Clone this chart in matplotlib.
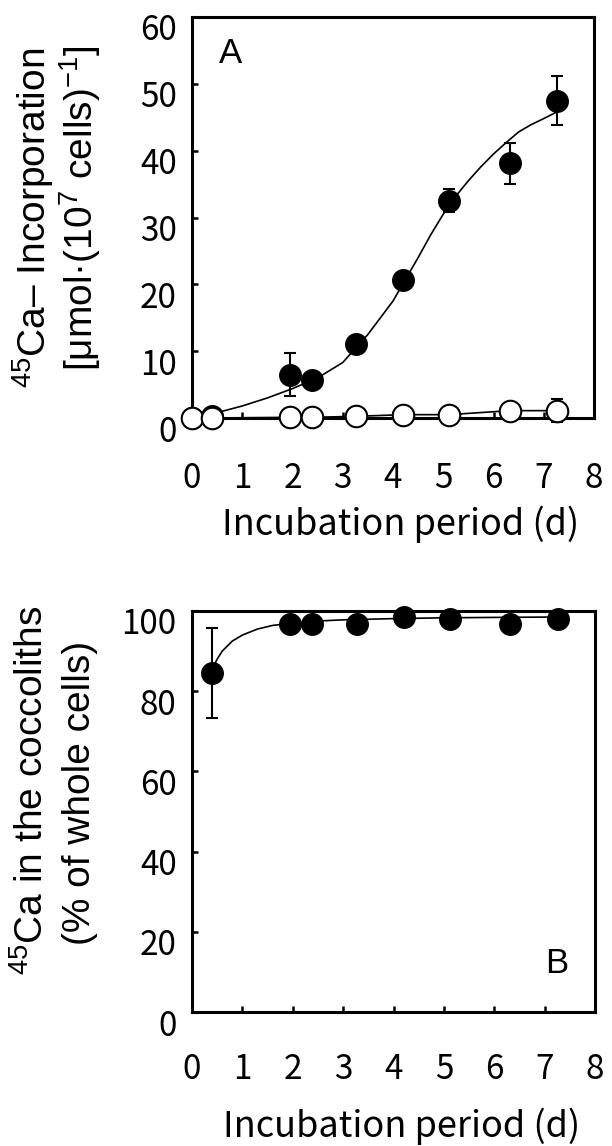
import matplotlib
matplotlib.use("Agg")
import matplotlib.pyplot as plt
from matplotlib.transforms import ScaledTranslation

plt.rcParams['font.family'] = ['Noto Sans CJK JP', 'DejaVu Sans']
plt.rcParams['mathtext.fontset'] = 'custom'
plt.rcParams['mathtext.rm'] = 'Liberation Sans'

# Panel A: 45Ca incorporation (filled = whole cells, open = control)
a_days = [0.0, 0.4, 1.95, 2.38, 3.27, 4.2, 5.12, 6.32, 7.26]
a_filled = [0.0, 0.3, 6.5, 5.7, 11.0, 20.6, 32.5, 38.1, 47.5]
a_filled_err = [0, 0, 3.2, 0, 0, 0, 1.7, 3.1, 3.6]
a_open = [0.0, 0.0, 0.1, 0.1, 0.25, 0.5, 0.5, 1.1, 1.1]
a_open_err = [0, 0, 0, 0, 0, 0, 0, 0.5, 1.7]

# fitted curve as drawn
a_fit_x = [0.4, 1.0, 1.5, 2.0, 2.5, 3.0, 3.5, 4.0, 4.5, 4.75, 5.0, 5.25, 5.5, 5.75,
           6.0, 6.25, 6.5, 6.75, 7.0, 7.26]
a_fit_y = [0.6, 1.8, 3.0, 4.4, 6.0, 8.3, 12.5, 17.5, 24.0, 27.4, 30.5, 33.2, 35.5, 37.6,
           39.5, 41.2, 42.8, 43.9, 44.8, 45.8]

# Panel B: 45Ca in coccoliths (% of whole cells)
b_days = [0.4, 1.95, 2.38, 3.27, 4.2, 5.12, 6.32, 7.26]
b_pct = [84.5, 96.8, 96.8, 96.8, 98.6, 98.1, 96.8, 98.1]
b_err = [11.3, 0, 0, 0, 0, 0, 0, 0]
b_fit_x = [0.4, 0.5, 0.6, 0.8, 1.0, 1.3, 1.6, 2.0, 2.5, 3.0, 4.0, 5.0, 6.0, 7.26]
b_fit_y = [85.5, 88.0, 90.0, 92.5, 94.0, 95.5, 96.4, 97.0, 97.5, 97.8, 98.1, 98.3, 98.4, 98.5]

fig = plt.figure(figsize=(6.12, 11.46), dpi=100)
W, H = 612, 1146
axA = fig.add_axes([192 / W, 1 - 418 / H, 402 / W, 401 / H])
axB = fig.add_axes([192 / W, 1 - 1012 / H, 403 / W, 401 / H])

ms = 15.5
eb = dict(elinewidth=1.5, capsize=4.5, capthick=1.5, clip_on=False)

# --- panel A ---
axA.plot(a_fit_x, a_fit_y, color='black', lw=1.2, zorder=2)
axA.errorbar(a_days, a_filled, yerr=a_filled_err, fmt='o', color='black',
             ms=ms, mec='black', zorder=3, **eb)
axA.errorbar(a_days, a_open, yerr=a_open_err, fmt='-o', color='black', lw=1.2,
             ms=ms, mfc='white', mec='black', mew=1.5, zorder=4, **eb)
axA.set_xlim(0, 8)
axA.set_ylim(0, 60)
axA.set_yticks([0, 10, 20, 30, 40, 50, 60])
axA.text(0.77, 54.5, 'A', fontsize=25, family='Liberation Sans', ha='center', va='center')

# --- panel B ---
axB.plot(b_fit_x, b_fit_y, color='black', lw=1.2, zorder=2)
axB.errorbar(b_days, b_pct, yerr=b_err, fmt='o', color='black',
             ms=ms, mec='black', zorder=3, **eb)
axB.set_xlim(0, 8)
axB.set_ylim(0, 100)
axB.set_yticks([0, 20, 40, 60, 80, 100])
axB.text(7.23, 12.2, 'B', fontsize=25, family='Liberation Sans', ha='center', va='center')

shift = ScaledTranslation(0, -10 / 100, fig.dpi_scale_trans)
for ax, xpad in ((axA, 31), (axB, 29)):
    for s in ax.spines.values():
        s.set_linewidth(2.2)
    ax.set_xticks(range(9))
    ax.tick_params(direction='in', length=4.5, width=1.8, labelsize=24)
    ax.tick_params(axis='y', pad=11)
    ax.tick_params(axis='x', pad=xpad)
    for lab in ax.get_yticklabels():
        lab.set_transform(lab.get_transform() + shift)

# x labels
axA.text(0.52, (418 - 524) / 401, 'Incubation period (d)', transform=axA.transAxes,
         fontsize=26, ha='center', va='center')
axB.text(0.52, (1012 - 1126) / 401, 'Incubation period (d)', transform=axB.transAxes,
         fontsize=26, ha='center', va='center')

# y labels (two lines each)
ylab = dict(rotation=90, ha='center', va='center', fontsize=28, family='Liberation Sans')
fig.text(33 / W, 1 - 218 / H, r'$\mathregular{^{45}}$Ca– Incorporation', **ylab)
fig.text(80 / W, 1 - 208 / H, r'[μmol·(10$\mathregular{^{7}}$ cells)$\mathregular{^{-1}}$]', **ylab)
fig.text(32 / W, 1 - 790 / H, r'$\mathregular{^{45}}$Ca in the coccoliths', **ylab)
fig.text(80 / W, 1 - 793 / H, '(% of whole cells)', **ylab)

fig.savefig('out.png', dpi=100)
